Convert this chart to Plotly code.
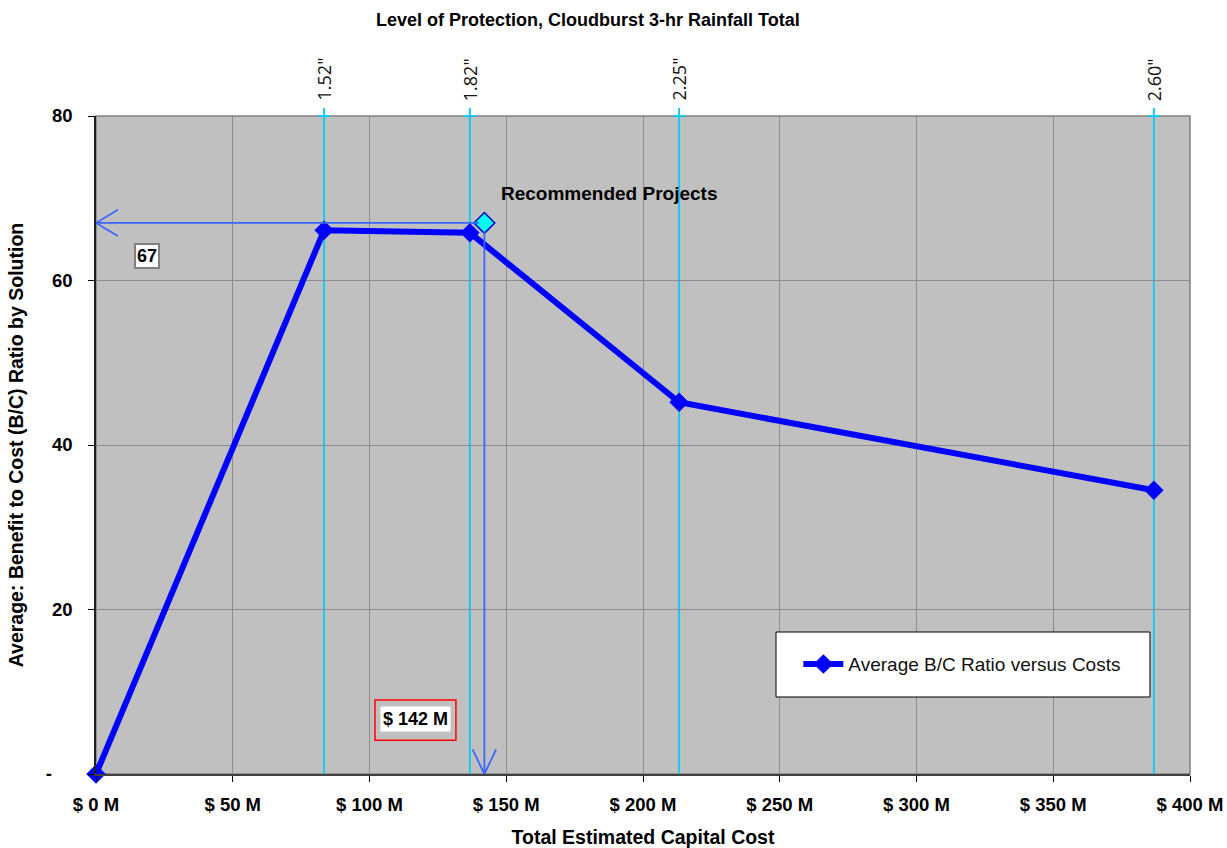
import plotly.graph_objects as go

# Capital cost ($M) and average benefit/cost ratio per protection level
cost_m = [0, 83.4, 136.7, 213.2, 386.8]
bc_ratio = [0, 66.1, 65.8, 45.2, 34.5]

# Cloudburst 3-hr rainfall total for each non-zero option
rainfall_cost_m = [83.4, 136.7, 213.2, 386.8]
rainfall_labels = ['1.52"', '1.82"', '2.25"', '2.60"']

# Recommended projects
rec_cost_m = [142]
rec_ratio = [67]

x_tick_vals = [0, 50, 100, 150, 200, 250, 300, 350, 400]
x_tick_text = ["$ 0 M", "$ 50 M", "$ 100 M", "$ 150 M", "$ 200 M",
               "$ 250 M", "$ 300 M", "$ 350 M", "$ 400 M"]
y_tick_vals = [0, 20, 40, 60, 80]
y_tick_text = ["-\u00a0\u00a0\u00a0\u00a0", "20", "40", "60", "80"]

FONT = "Liberation Sans, Arial, sans-serif"
CYAN = "#19c8f0"
ARROW = "#3a66ff"

fig = go.Figure()

fig.add_trace(go.Scatter(
    x=cost_m, y=bc_ratio, mode="lines+markers",
    name="Average B/C Ratio versus Costs",
    line=dict(color="#0000ff", width=6),
    marker=dict(symbol="diamond", size=15, color="#0000ff"),
    cliponaxis=False,
))

fig.add_trace(go.Scatter(
    x=rec_cost_m, y=rec_ratio, mode="markers", showlegend=False,
    marker=dict(symbol="diamond", size=16, color="#00ffff",
                line=dict(color="#0000cc", width=1.5)),
    cliponaxis=False,
))

shapes = []
annotations = []

# Plot frame (top/right edges)
shapes.append(dict(type="rect", xref="paper", yref="paper", x0=0, x1=1, y0=0, y1=1,
                   line=dict(color="#808080", width=1.5), layer="between"))

# Rainfall level markers
for xc, lab in zip(rainfall_cost_m, rainfall_labels):
    shapes.append(dict(type="line", xref="x", yref="paper", x0=xc, x1=xc, y0=0, y1=1.012,
                       line=dict(color=CYAN, width=2), layer="between"))
    shapes.append(dict(type="line", xref="x", yref="paper", x0=xc - 2.2, x1=xc + 2.2, y0=1, y1=1,
                       line=dict(color=CYAN, width=2), layer="between"))
    annotations.append(dict(x=xc, y=1.02, xref="x", yref="paper", text=lab, showarrow=False,
                            textangle=-90, xanchor="center", yanchor="bottom",
                            font=dict(family="Open Sans, DejaVu Sans, sans-serif", size=18, color="#111")))

# Guide arrows from the recommended point to each axis
rx, ry = rec_cost_m[0], rec_ratio[0]
shapes += [
    dict(type="line", xref="x", yref="y", x0=0, x1=rx - 2, y0=ry, y1=ry,
         line=dict(color=ARROW, width=1.8), layer="above"),
    dict(type="line", xref="x", yref="y", x0=0, x1=8, y0=ry, y1=ry + 1.6,
         line=dict(color=ARROW, width=1.8), layer="above"),
    dict(type="line", xref="x", yref="y", x0=0, x1=8, y0=ry, y1=ry - 1.6,
         line=dict(color=ARROW, width=1.8), layer="above"),
    dict(type="line", xref="x", yref="y", x0=rx, x1=rx, y0=ry - 1.0, y1=0,
         line=dict(color=ARROW, width=1.8), layer="above"),
    dict(type="line", xref="x", yref="y", x0=rx, x1=rx - 4.3, y0=0, y1=3.0,
         line=dict(color=ARROW, width=1.8), layer="above"),
    dict(type="line", xref="x", yref="y", x0=rx, x1=rx + 4.3, y0=0, y1=3.0,
         line=dict(color=ARROW, width=1.8), layer="above"),
]

# Red frame round the cost label
shapes.append(dict(type="rect", xref="x", yref="y", x0=102.0, x1=131.6, y0=4.1, y1=9.0,
                   line=dict(color="#ff0000", width=1.5), layer="above"))

# Legend box
shapes.append(dict(type="rect", xref="paper", yref="paper", x0=0.6216, x1=0.9634,
                   y0=0.117, y1=0.2158, line=dict(color="#000", width=1),
                   fillcolor="white", layer="above"))

annotations += [
    dict(x=116.8, y=6.7, xref="x", yref="y", text=f"<b>$ {rx} M</b>", showarrow=False,
         bgcolor="white", borderpad=2, font=dict(family=FONT, size=18, color="#000")),
    dict(x=18.6, y=63.0, xref="x", yref="y", text=f"<b>{ry}</b>", showarrow=False,
         bgcolor="white", bordercolor="#808080", borderwidth=2, borderpad=1,
         font=dict(family=FONT, size=18, color="#000")),
    dict(x=147.5, y=70.6, xref="x", yref="y", text="<b>Recommended Projects</b>",
         showarrow=False, xanchor="left", font=dict(family=FONT, size=19, color="#000")),
    dict(x=0.4497, y=1.146, xref="paper", yref="paper", yanchor="middle",
         text="<b>Level of Protection, Cloudburst 3-hr Rainfall Total</b>", showarrow=False,
         font=dict(family=FONT, size=18, color="#000")),
]

fig.update_layout(
    width=1227, height=848,
    margin=dict(l=96, r=37, t=116, b=74, autoexpand=False),
    paper_bgcolor="white",
    plot_bgcolor="#c0c0c0",
    font=dict(family=FONT, color="#000"),
    shapes=shapes,
    annotations=annotations,
    legend=dict(x=0.642, y=0.167, xanchor="left", yanchor="middle",
                bgcolor="rgba(0,0,0,0)", font=dict(family=FONT, size=19, color="#111"),
                itemwidth=40),
    xaxis=dict(
        range=[0, 400], tickvals=x_tick_vals, ticktext=x_tick_text,
        tickfont=dict(family=FONT, size=18.5, weight="bold"),
        ticks="outside", ticklen=6, tickcolor="#000", ticklabelstandoff=7,
        showgrid=True, gridcolor="#8c8c8c", gridwidth=1, automargin=False,
        showline=True, linecolor="#404040", linewidth=2, zeroline=False,
        title=dict(text="<b>Total Estimated Capital Cost</b>", font=dict(family=FONT, size=19.5),
                   standoff=17),
    ),
    yaxis=dict(
        range=[0, 80], tickvals=y_tick_vals, ticktext=y_tick_text,
        tickfont=dict(family=FONT, size=18.5, weight="bold"),
        ticks="outside", ticklen=6, tickcolor="#000", ticklabelstandoff=12,
        showgrid=True, gridcolor="#8c8c8c", gridwidth=1, automargin=False,
        showline=True, linecolor="#202020", linewidth=1.5, zeroline=False,
        title=dict(text="<b>Average: Benefit to Cost (B/C) Ratio by Solution</b>",
                   font=dict(family=FONT, size=19.5), standoff=17),
    ),
)

fig.write_html("out.html")
